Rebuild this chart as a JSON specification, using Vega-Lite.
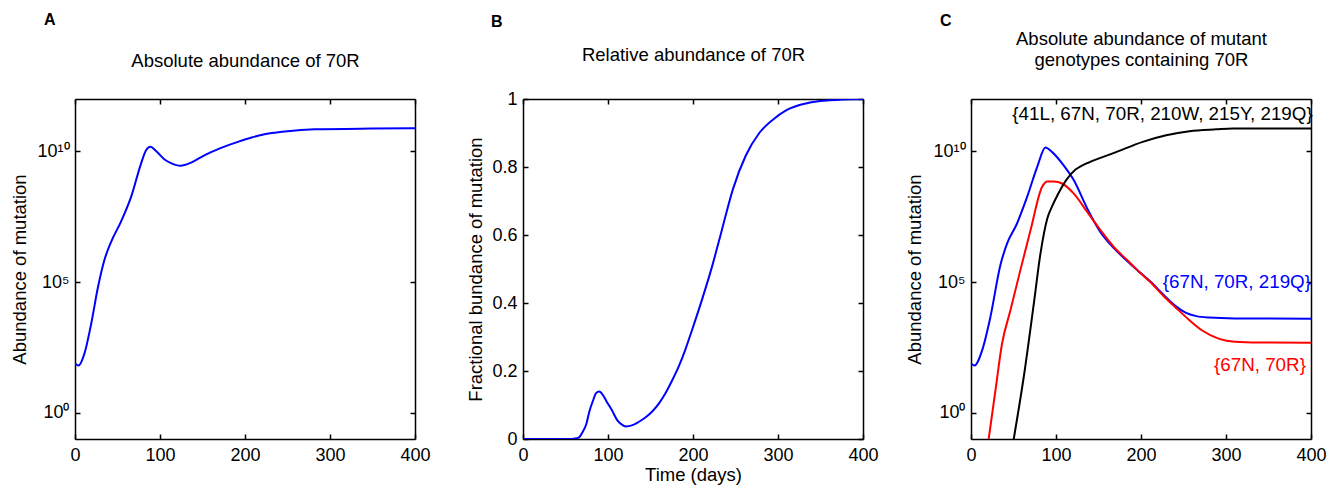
{
  "$schema": "https://vega.github.io/schema/vega-lite/v6.json",
  "padding": {"left": 10, "top": 11, "right": 5, "bottom": 5},
  "background": "white",
  "datasets": {
    "a": [
      {"t": 0, "v": 80}, {"t": 4, "v": 64}, {"t": 11, "v": 180}, {"t": 19, "v": 2500},
      {"t": 27, "v": 63000}, {"t": 34.5, "v": 680000}, {"t": 42.4, "v": 3400000}, {"t": 54, "v": 20000000},
      {"t": 66, "v": 180000000}, {"t": 77.7, "v": 3400000000}, {"t": 83.6, "v": 11000000000}, {"t": 88.7, "v": 14800000000},
      {"t": 95.4, "v": 10200000000}, {"t": 105, "v": 5000000000}, {"t": 113, "v": 3550000000}, {"t": 124, "v": 2800000000},
      {"t": 136.6, "v": 3700000000}, {"t": 148, "v": 5900000000}, {"t": 160, "v": 9300000000}, {"t": 175, "v": 14800000000},
      {"t": 191.6, "v": 23000000000}, {"t": 207, "v": 33000000000}, {"t": 223, "v": 45000000000}, {"t": 237, "v": 52500000000},
      {"t": 250, "v": 59000000000}, {"t": 282, "v": 69000000000}, {"t": 349, "v": 74000000000}, {"t": 400, "v": 76000000000}
    ],
    "b": [
      {"t": 0, "v": 0}, {"t": 40, "v": 0}, {"t": 55, "v": 0}, {"t": 60, "v": 0.001}, {"t": 66, "v": 0.005},
      {"t": 70, "v": 0.02}, {"t": 74.6, "v": 0.045}, {"t": 78, "v": 0.08}, {"t": 82.5, "v": 0.114}, {"t": 86, "v": 0.135},
      {"t": 89.6, "v": 0.14}, {"t": 93, "v": 0.133}, {"t": 98, "v": 0.112}, {"t": 104.5, "v": 0.085}, {"t": 111, "v": 0.055},
      {"t": 116, "v": 0.043}, {"t": 121, "v": 0.037}, {"t": 128, "v": 0.04}, {"t": 136, "v": 0.05}, {"t": 144, "v": 0.063},
      {"t": 151.7, "v": 0.08}, {"t": 160, "v": 0.105}, {"t": 167.4, "v": 0.134}, {"t": 175, "v": 0.17}, {"t": 183, "v": 0.212},
      {"t": 191, "v": 0.263}, {"t": 198.8, "v": 0.32}, {"t": 210.6, "v": 0.41}, {"t": 222.4, "v": 0.507}, {"t": 234, "v": 0.615},
      {"t": 247, "v": 0.735}, {"t": 262, "v": 0.833}, {"t": 278, "v": 0.9}, {"t": 294, "v": 0.939}, {"t": 310, "v": 0.967},
      {"t": 333, "v": 0.987}, {"t": 361, "v": 0.996}, {"t": 400, "v": 1.0}
    ],
    "c": [
      {"series": "blue", "t": 0, "v": 80}, {"series": "blue", "t": 4, "v": 64}, {"series": "blue", "t": 13, "v": 240},
      {"series": "blue", "t": 22.8, "v": 4570}, {"series": "blue", "t": 34.6, "v": 450000}, {"series": "blue", "t": 42.4, "v": 2950000},
      {"series": "blue", "t": 54, "v": 17000000}, {"series": "blue", "t": 66, "v": 180000000}, {"series": "blue", "t": 77.8, "v": 2500000000},
      {"series": "blue", "t": 87.6, "v": 14000000000}, {"series": "blue", "t": 95.5, "v": 9300000000}, {"series": "blue", "t": 109, "v": 2900000000},
      {"series": "blue", "t": 121, "v": 780000000}, {"series": "blue", "t": 136.7, "v": 65000000}, {"series": "blue", "t": 152.5, "v": 7900000},
      {"series": "blue", "t": 168, "v": 2000000}, {"series": "blue", "t": 184, "v": 630000}, {"series": "blue", "t": 196, "v": 280000},
      {"series": "blue", "t": 211, "v": 105000}, {"series": "blue", "t": 227, "v": 31600}, {"series": "blue", "t": 240, "v": 12600},
      {"series": "blue", "t": 253, "v": 6600}, {"series": "blue", "t": 265, "v": 5000}, {"series": "blue", "t": 280, "v": 4400},
      {"series": "blue", "t": 310, "v": 4070}, {"series": "blue", "t": 400, "v": 3980},
      {"series": "red", "t": 18, "v": 0.022}, {"series": "red", "t": 20.8, "v": 0.1}, {"series": "red", "t": 28.7, "v": 7},
      {"series": "red", "t": 36.5, "v": 437}, {"series": "red", "t": 46.4, "v": 8300}, {"series": "red", "t": 58, "v": 280000},
      {"series": "red", "t": 70, "v": 9500000}, {"series": "red", "t": 83.7, "v": 440000000}, {"series": "red", "t": 90, "v": 700000000},
      {"series": "red", "t": 97.4, "v": 700000000}, {"series": "red", "t": 107.7, "v": 575000000}, {"series": "red", "t": 121, "v": 240000000},
      {"series": "red", "t": 136.7, "v": 48000000}, {"series": "red", "t": 152.5, "v": 9500000}, {"series": "red", "t": 168, "v": 2200000},
      {"series": "red", "t": 184, "v": 680000}, {"series": "red", "t": 196, "v": 280000}, {"series": "red", "t": 211, "v": 100000},
      {"series": "red", "t": 227, "v": 28000}, {"series": "red", "t": 240, "v": 11200}, {"series": "red", "t": 253, "v": 4570},
      {"series": "red", "t": 272, "v": 1410}, {"series": "red", "t": 292, "v": 676}, {"series": "red", "t": 310, "v": 525},
      {"series": "red", "t": 340, "v": 490}, {"series": "red", "t": 400, "v": 479},
      {"series": "black", "t": 48, "v": 0.035}, {"series": "black", "t": 50.3, "v": 0.1}, {"series": "black", "t": 62, "v": 23},
      {"series": "black", "t": 73.9, "v": 15000}, {"series": "black", "t": 81.7, "v": 1230000}, {"series": "black", "t": 89.6, "v": 26000000},
      {"series": "black", "t": 95.9, "v": 85000000}, {"series": "black", "t": 101.4, "v": 200000000}, {"series": "black", "t": 112, "v": 790000000},
      {"series": "black", "t": 123, "v": 2000000000}, {"series": "black", "t": 130, "v": 2800000000}, {"series": "black", "t": 139, "v": 3800000000},
      {"series": "black", "t": 170.6, "v": 9300000000}, {"series": "black", "t": 202, "v": 23000000000}, {"series": "black", "t": 229.6, "v": 41000000000},
      {"series": "black", "t": 257, "v": 59000000000}, {"series": "black", "t": 288.6, "v": 69000000000}, {"series": "black", "t": 308, "v": 74000000000},
      {"series": "black", "t": 400, "v": 74000000000}
    ],
    "cl": [
      {"series": "black", "t": 402, "v": 275000000000, "label": "{41L, 67N, 70R, 210W, 215Y, 219Q}"},
      {"series": "blue", "t": 400, "v": 100000, "label": "{67N, 70R, 219Q}"},
      {"series": "red", "t": 394, "v": 65, "label": "{67N, 70R}"}
    ]
  },
  "spacing": 108,
  "bounds": "flush",
  "hconcat": [
    {
      "width": 340, "height": 340,
      "title": {"text": "A", "dx": -31, "offset": 24},
      "layer": [
        {
          "data": {"name": "a"},
          "mark": {"type": "line", "color": "#0000ff", "strokeWidth": 2, "interpolate": "monotone", "clip": true},
          "encoding": {
            "x": {"field": "t", "type": "quantitative", "scale": {"domain": [0, 400], "nice": false},
                  "axis": {"orient": "bottom", "values": [0, 100, 200, 300, 400], "labelPadding": 12.5, "title": null}},
            "y": {"field": "v", "type": "quantitative", "scale": {"type": "log", "domain": [0.1, 1000000000000], "nice": false},
                  "axis": {"orient": "left", "values": [1, 100000, 10000000000], "labelPadding": 11,
                           "labelExpr": "datum.value >= 1e9 ? '10\u00b9\u2070' : datum.value >= 1e4 ? '10\u2075' : '10\u2070'",
                           "title": "Abundance of mutation", "titleX": -45.5}}
          }
        },
        {
          "data": {"name": "a"},
          "mark": {"type": "line", "opacity": 0},
          "encoding": {
            "x": {"field": "t", "type": "quantitative",
                  "axis": {"orient": "top", "values": [0, 100, 200, 300, 400], "labels": false,
                           "title": "Absolute abundance of 70R", "titleY": -32.5, "titleBaseline": "alphabetic"}},
            "y": {"field": "v", "type": "quantitative",
                  "axis": {"orient": "right", "values": [1, 100000, 10000000000], "labels": false, "title": null}}
          }
        }
      ],
      "resolve": {"axis": {"x": "independent", "y": "independent"}}
    },
    {
      "width": 340, "height": 340,
      "title": {"text": "B", "dx": -32, "offset": 16},
      "layer": [
        {
          "data": {"name": "b"},
          "mark": {"type": "line", "color": "#0000ff", "strokeWidth": 2, "interpolate": "monotone", "clip": true},
          "encoding": {
            "x": {"field": "t", "type": "quantitative", "scale": {"domain": [0, 400], "nice": false},
                  "axis": {"orient": "bottom", "values": [0, 100, 200, 300, 400], "labelPadding": 12.5,
                           "title": "Time (days)", "titleY": 26.7}},
            "y": {"field": "v", "type": "quantitative", "scale": {"domain": [0, 1], "nice": false},
                  "axis": {"orient": "left", "values": [0, 0.2, 0.4, 0.6, 0.8, 1], "format": "~g", "labelPadding": 11,
                           "title": "Fractional bundance of mutation", "titleX": -37.5}}
          }
        },
        {
          "data": {"name": "b"},
          "mark": {"type": "line", "opacity": 0},
          "encoding": {
            "x": {"field": "t", "type": "quantitative",
                  "axis": {"orient": "top", "values": [0, 100, 200, 300, 400], "labels": false,
                           "title": "Relative abundance of 70R", "titleY": -38.5, "titleBaseline": "alphabetic"}},
            "y": {"field": "v", "type": "quantitative",
                  "axis": {"orient": "right", "values": [0, 0.2, 0.4, 0.6, 0.8, 1], "labels": false, "title": null}}
          }
        }
      ],
      "resolve": {"axis": {"x": "independent", "y": "independent"}}
    },
    {
      "width": 340, "height": 340,
      "title": {"text": "C", "dx": -31, "offset": 0},
      "layer": [
        {
          "data": {"name": "c"},
          "mark": {"type": "line", "strokeWidth": 2, "interpolate": "monotone", "clip": true},
          "encoding": {
            "x": {"field": "t", "type": "quantitative", "scale": {"domain": [0, 400], "nice": false},
                  "axis": {"orient": "bottom", "values": [0, 100, 200, 300, 400], "labelPadding": 12.5, "title": null}},
            "y": {"field": "v", "type": "quantitative", "scale": {"type": "log", "domain": [0.1, 1000000000000], "nice": false},
                  "axis": {"orient": "left", "values": [1, 100000, 10000000000], "labelPadding": 11,
                           "labelExpr": "datum.value >= 1e9 ? '10\u00b9\u2070' : datum.value >= 1e4 ? '10\u2075' : '10\u2070'",
                           "title": "Abundance of mutation", "titleX": -46.5}},
            "color": {"field": "series", "type": "nominal",
                      "scale": {"domain": ["blue", "red", "black"], "range": ["#0000ff", "#ff0000", "#000000"]}, "legend": null}
          }
        },
        {
          "data": {"name": "cl"},
          "mark": {"type": "text", "align": "right", "baseline": "middle", "fontSize": 18.8, "font": "Liberation Sans"},
          "encoding": {
            "x": {"field": "t", "type": "quantitative", "axis": null},
            "y": {"field": "v", "type": "quantitative", "axis": null},
            "text": {"field": "label"},
            "color": {"field": "series", "type": "nominal", "legend": null}
          }
        },
        {
          "data": {"name": "c"},
          "mark": {"type": "line", "opacity": 0},
          "encoding": {
            "x": {"field": "t", "type": "quantitative",
                  "axis": {"orient": "top", "values": [0, 100, 200, 300, 400], "labels": false,
                           "title": ["Absolute abundance of mutant", "genotypes containing 70R"],
                           "titleY": -50.6, "titleBaseline": "bottom", "titleLineHeight": 21}},
            "y": {"field": "v", "type": "quantitative",
                  "axis": {"orient": "right", "values": [1, 100000, 10000000000], "labels": false, "title": null}},
            "detail": {"field": "series"}
          }
        }
      ],
      "resolve": {"axis": {"x": "independent", "y": "independent"}}
    }
  ],
  "config": {
    "view": {"stroke": null},
    "axis": {
      "grid": false, "domainColor": "#000000", "domainWidth": 1.5, "tickColor": "#000000", "tickWidth": 1.5,
      "tickSize": -5, "labelColor": "#000000", "titleColor": "#000000", "labelFont": "Liberation Sans",
      "titleFont": "Liberation Sans", "labelFontSize": 18, "titleFontSize": 18.5, "titleFontWeight": "normal",
      "labelFlush": false, "labelOverlap": false
    },
    "title": {"font": "Liberation Sans", "fontSize": 16, "fontWeight": "bold", "anchor": "start", "frame": "group", "color": "#000000"}
  }
}
